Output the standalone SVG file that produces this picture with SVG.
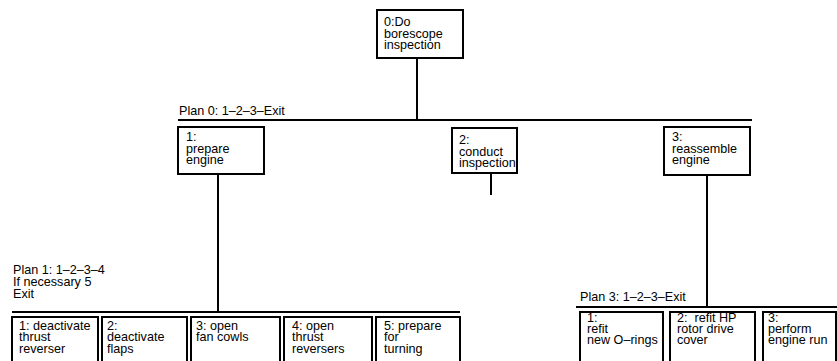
<svg xmlns="http://www.w3.org/2000/svg" width="837" height="361" viewBox="0 0 837 361">
<style>
text{font-family:"Liberation Sans",Arial,sans-serif;font-size:12.6px;fill:#000;white-space:pre}
.box{fill:#fff;stroke:#000;stroke-width:2}
.ln{stroke:#000;stroke-width:2;fill:none}
</style>
<rect width="837" height="361" fill="#fff"/>
<g id="connectors">
<line class="ln" x1="417" y1="58" x2="417" y2="120"/>
<line class="ln" x1="178" y1="120" x2="752" y2="120"/>
<line class="ln" x1="218" y1="174" x2="218" y2="312"/>
<line class="ln" x1="491" y1="173" x2="491" y2="195"/>
<line class="ln" x1="707" y1="175" x2="707" y2="307"/>
<line class="ln" x1="12" y1="312" x2="460" y2="312"/>
<line class="ln" x1="576" y1="307" x2="837" y2="307"/>
</g>
<g id="plans">
<text x="179" y="115">Plan 0: 1–2–3–Exit</text>
<text><tspan x="13" y="274">Plan 1: 1–2–3–4</tspan><tspan x="13" y="286">If necessary 5</tspan><tspan x="13" y="297.5">Exit</tspan></text>
<text x="580" y="301">Plan 3: 1–2–3–Exit</text>
</g>
<g id="n0">
<rect class="box" x="377" y="10" width="86" height="48"/>
<text><tspan x="384" y="26">0:Do</tspan><tspan x="384" y="37.5">borescope</tspan><tspan x="384" y="49">inspection</tspan></text>
</g>
<g id="n1">
<rect class="box" x="178" y="127" width="86" height="47"/>
<text><tspan x="186" y="141">1:</tspan><tspan x="186" y="152.5">prepare</tspan><tspan x="186" y="164">engine</tspan></text>
</g>
<g id="n2">
<rect class="box" x="452" y="128" width="65" height="45"/>
<text><tspan x="459" y="144">2:</tspan><tspan x="459" y="155.5">conduct</tspan><tspan x="459" y="167">inspection</tspan></text>
</g>
<g id="n3">
<rect class="box" x="664" y="127" width="86" height="48"/>
<text><tspan x="672" y="141">3:</tspan><tspan x="672" y="152.5">reassemble</tspan><tspan x="672" y="164">engine</tspan></text>
</g>
<g id="n1_1">
<rect class="box" x="12" y="317" width="86" height="52"/>
<text><tspan x="19" y="329.5">1: deactivate</tspan><tspan x="19" y="341">thrust</tspan><tspan x="19" y="352.5">reverser</tspan></text>
</g>
<g id="n1_2">
<rect class="box" x="102" y="317" width="85" height="52"/>
<text><tspan x="107" y="329.5">2:</tspan><tspan x="107" y="341">deactivate</tspan><tspan x="107" y="352.5">flaps</tspan></text>
</g>
<g id="n1_3">
<rect class="box" x="191" y="317" width="89" height="52"/>
<text><tspan x="196" y="329.5">3: open</tspan><tspan x="196" y="341">fan cowls</tspan></text>
</g>
<g id="n1_4">
<rect class="box" x="284" y="317" width="88" height="52"/>
<text><tspan x="292" y="329.5">4: open</tspan><tspan x="292" y="341">thrust</tspan><tspan x="292" y="352.5">reversers</tspan></text>
</g>
<g id="n1_5">
<rect class="box" x="376" y="317" width="84" height="52"/>
<text><tspan x="384" y="329.5">5: prepare</tspan><tspan x="384" y="341">for</tspan><tspan x="384" y="352.5">turning</tspan></text>
</g>
<g id="n3_1">
<rect class="box" x="580" y="312" width="83" height="57"/>
<text><tspan x="587" y="321.5">1:</tspan><tspan x="587" y="332.5">refit</tspan><tspan x="587" y="344">new O–rings</tspan></text>
</g>
<g id="n3_2">
<rect class="box" x="670" y="312" width="85" height="57"/>
<text><tspan x="677" y="321.5">2:  refit HP</tspan><tspan x="677" y="332.5">rotor drive</tspan><tspan x="677" y="344">cover</tspan></text>
</g>
<g id="n3_3">
<rect class="box" x="763" y="312" width="73" height="57"/>
<text><tspan x="768" y="321.5">3:</tspan><tspan x="768" y="332.5">perform</tspan><tspan x="768" y="344">engine run</tspan></text>
</g>
</svg>
